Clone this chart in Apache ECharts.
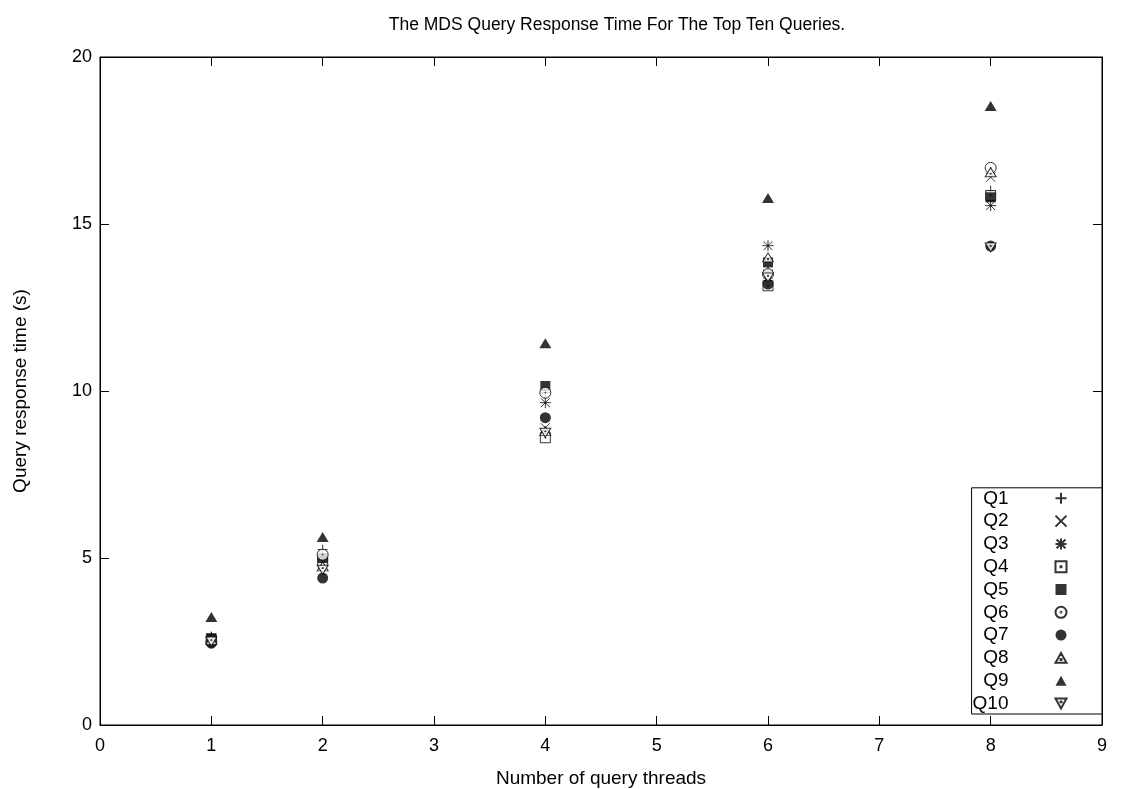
<!DOCTYPE html>
<html>
<head>
<meta charset="utf-8">
<script src="https://cdn.jsdelivr.net/npm/echarts@6/dist/echarts.min.js"></script>
<style>
  html, body { margin: 0; padding: 0; background: #fff; }
  #chart { width: 1124px; height: 789px; }
</style>
</head>
<body>
<div id="chart"></div>
<script>
const threads = [1, 2, 4, 6, 8];
const queryNames = ['Q1', 'Q2', 'Q3', 'Q4', 'Q5', 'Q6', 'Q7', 'Q8', 'Q9', 'Q10'];

// response time (s) per query, one value per thread count
const q1 = [2.65, 5.25, 9.95, 13.6, 16.0];
const q2 = [2.6, 4.8, 8.9, 13.5, 16.4];
const q3 = [2.6, 4.95, 9.65, 14.35, 15.55];
const q4 = [2.55, 4.9, 8.6, 13.15, 15.85];
const q5 = [2.6, 5.0, 10.15, 13.85, 15.8];
const q6 = [2.5, 5.1, 9.95, 13.5, 16.68];
const q7 = [2.45, 4.4, 9.2, 13.2, 14.34];
const q8 = [2.55, 4.75, 8.8, 14.0, 16.55];
const q9 = [3.23, 5.63, 11.43, 15.78, 18.53];
const q10 = [2.5, 4.65, 8.75, 13.4, 14.3];

const xTicks = [0, 1, 2, 3, 4, 5, 6, 7, 8, 9];
const yTicks = [0, 5, 10, 15, 20];

const allValues = [q1, q2, q3, q4, q5, q6, q7, q8, q9, q10];

const hollow = { color: '#fff', borderColor: '#000', borderWidth: 1 };
const solid = { color: '#000', borderWidth: 0 };
const lineOnly = { color: 'none', borderColor: '#000', borderWidth: 1 };
const markers = [
  { symbol: 'path://M5,0 L5,10 M0,5 L10,5', size: 10, style: lineOnly },
  { symbol: 'path://M0,0 L10,10 M10,0 L0,10', size: 9, style: lineOnly },
  { symbol: 'path://M5,0 L5,10 M0,5 L10,5 M1,1 L9,9 M9,1 L1,9', size: 11, style: lineOnly },
  { symbol: 'path://M0,0 L10,0 L10,10 L0,10 Z M4.6,4.6 L5.4,4.6 L5.4,5.4 L4.6,5.4 Z', size: 10, style: hollow },
  { symbol: 'rect', size: 10, style: solid },
  { symbol: 'path://M0,5 A5,5 0 1 1 10,5 A5,5 0 1 1 0,5 Z M4.6,5 A0.4,0.4 0 1 1 5.4,5 A0.4,0.4 0 1 1 4.6,5 Z', size: 11, style: hollow },
  { symbol: 'circle', size: 11, style: solid },
  { symbol: 'path://M5,0 L10,9 L0,9 Z M4.6,5.6 L5.4,5.6 L5.4,6.4 L4.6,6.4 Z', size: [11, 9], style: hollow },
  { symbol: 'path://M5,0 L10,9 L0,9 Z', size: [12, 10], style: solid },
  { symbol: 'path://M0,0 L10,0 L5,9 Z M4.6,2.6 L5.4,2.6 L5.4,3.4 L4.6,3.4 Z', size: [11, 9], style: hollow }
];

const chart = echarts.init(document.getElementById('chart'));

const font = 'Liberation Sans, Arial, sans-serif';
const baseAxis = {
  type: 'value',
  axisLine: { show: true, onZero: false, lineStyle: { color: '#000', width: 1 } },
  axisTick: { show: true, inside: true, length: 9, lineStyle: { color: '#000' } },
  splitLine: { show: false },
  axisLabel: { color: '#000', fontFamily: font, fontSize: 18 },
  nameTextStyle: { color: '#000', fontFamily: font, fontSize: 19 }
};

const option = {
  backgroundColor: '#fff',
  animation: false,
  title: {
    text: 'The MDS Query Response Time For The Top Ten Queries.',
    left: 612,
    textAlign: 'center',
    top: 11,
    textStyle: { color: '#000', fontFamily: font, fontSize: 17.5, fontWeight: 'normal' }
  },
  grid: {
    left: 100, right: 22, top: 57, bottom: 64,
    outerBoundsMode: 'none',
    show: true, borderColor: '#000', borderWidth: 1
  },
  legend: {
    orient: 'vertical',
    right: 22,
    bottom: 75,
    align: 'right',
    itemGap: 3.8,
    itemWidth: 11,
    itemHeight: 11,
    padding: [1, 33, 1, 1],
    backgroundColor: '#fff',
    borderColor: '#000',
    borderWidth: 1,
    borderRadius: 0,
    selectedMode: false,
    textStyle: { color: '#000', fontFamily: font, fontSize: 19, lineHeight: 19, padding: [0, 42, 0, 0] },
    data: queryNames
  },
  xAxis: [
    Object.assign({}, baseAxis, {
      min: 0, max: 9, interval: 1,
      name: 'Number of query threads',
      nameLocation: 'middle',
      nameGap: 44,
      axisLabel: Object.assign({}, baseAxis.axisLabel, { margin: 12, customValues: xTicks }),
      axisTick: Object.assign({}, baseAxis.axisTick, { customValues: xTicks })
    }),
    Object.assign({}, baseAxis, {
      position: 'top', min: 0, max: 9, interval: 1,
      axisLabel: { show: false }
    })
  ],
  yAxis: [
    Object.assign({}, baseAxis, {
      min: 0, max: 20, interval: 5,
      name: 'Query response time (s)',
      nameLocation: 'middle',
      nameGap: 70,
      axisLabel: Object.assign({}, baseAxis.axisLabel, { margin: 8, customValues: yTicks }),
      axisTick: Object.assign({}, baseAxis.axisTick, { customValues: yTicks })
    }),
    Object.assign({}, baseAxis, {
      position: 'right', min: 0, max: 20, interval: 5,
      axisLabel: { show: false }
    })
  ],
  series: queryNames.map((name, i) => ({
    name: name,
    type: 'scatter',
    xAxisIndex: 0,
    yAxisIndex: 0,
    symbol: markers[i].symbol,
    symbolSize: markers[i].size,
    itemStyle: markers[i].style,
    emphasis: { disabled: true },
    data: threads.map((t, j) => [t, allValues[i][j]])
  }))
};

chart.setOption(option);
window.addEventListener('resize', () => chart.resize());
</script>
</body>
</html>
